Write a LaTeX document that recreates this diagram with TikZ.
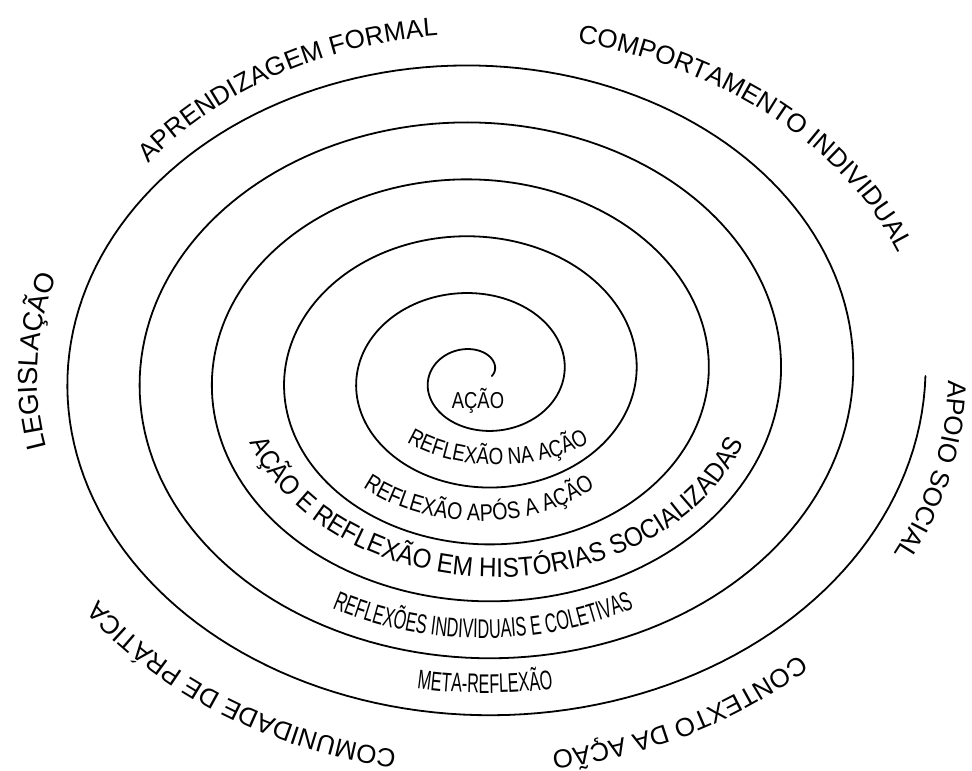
\documentclass[tikz,border=0pt]{standalone}
\usepackage{fontspec}
\setmainfont{Liberation Sans}
\newfontfamily\fnarrowA[FakeStretch=0.8]{Liberation Sans}
\newfontfamily\fnarrowD[FakeStretch=0.82]{Liberation Sans}
\newfontfamily\fnarrowB[FakeStretch=0.6]{Liberation Sans}
\newfontfamily\fnarrowC[FakeStretch=0.9]{Liberation Sans}
\usetikzlibrary{decorations.text}
\newcommand\lblOuter{\fontsize{26}{30}\selectfont}
\newcommand\lblLeg{\fontsize{27.5}{30}\selectfont}
\newcommand\lblSmall{\fnarrowA\fontsize{23}{26}\selectfont}
\newcommand\lblNa{\fnarrowA\fontsize{23.5}{26}\selectfont}
\newcommand\lblApos{\fnarrowD\fontsize{24}{26}\selectfont}
\newcommand\lblMid{\fnarrowC\fontsize{27}{30}\selectfont}
\newcommand\lblTall{\fnarrowB\fontsize{27}{30}\selectfont}
\tikzset{
  spiralline/.style={line width=1.8pt, line join=round, line cap=round},
}
\begin{document}
\begin{tikzpicture}[x=1pt,y=1pt]
\useasboundingbox (0,0) rectangle (972,-771);
\fill[white] (0,0) rectangle (972,-771);
\coordinate (c) at (478.4,-376.1);

% spiral
\draw[spiralline] plot[domain=0:2160, samples=1081, variable=\t]
  ({478.4+(13.3+0.2008*\t)*cos(\t)}, {-376.1+(11.35+0.1583*\t)*sin(\t)});

% centre label
\node[anchor=base, inner sep=0pt] (acao) at (478,-408) {\lblSmall AÇÃO};

% inner curved labels (counter-clockwise, centred)
\path[decorate, decoration={text along path, text align=center,
  text={|\lblNa|REFLEXÃO NA AÇÃO}}]
  (498,-376) ++(170:137 and 89) arc[start angle=170, end angle=370, x radius=137, y radius=89];
\path[decorate, decoration={text along path, text align=center,
  text={|\lblApos|REFLEXÃO APÓS A AÇÃO}}]
  (479,-376) ++(170:182 and 145) arc[start angle=170, end angle=370, x radius=182, y radius=145];
\path[decorate, decoration={text along path, text align=center,
  text={|\lblMid|AÇÃO E REFLEXÃO EM HISTÓRIAS SOCIALIZADAS}}]
  (497,-376) ++(160:262 and 201) arc[start angle=160, end angle=380, x radius=262, y radius=201];
\path[decorate, decoration={text along path, text align=center,
  text={|\lblTall|REFLEXÕES INDIVIDUAIS E COLETIVAS}}]
  (483,-376) ++(180:325 and 262) arc[start angle=180, end angle=360, x radius=325, y radius=262];
\path[decorate, decoration={text along path, text align=center,
  text={|\lblTall|META-REFLEXÃO}}]
  (485,-376) ++(200:400 and 317) arc[start angle=200, end angle=340, x radius=400, y radius=317];

% outer labels (clockwise, text starts at path start)
\path[decorate, decoration={text along path,
  text={|\lblLeg|LEGISLAÇÃO}}]
  (c) ++(192:441 and 342) arc[start angle=192, end angle=120, x radius=441, y radius=342];
\path[decorate, decoration={text along path,
  text={|\lblOuter|APRENDIZAGEM FORMAL}}]
  (c) ++(141.5:422 and 342) arc[start angle=141.5, end angle=50, x radius=422, y radius=342];
\path[decorate, decoration={text along path,
  text={|\lblOuter|COMPORTAMENTO INDIVIDUAL}}]
  (c) ++(77.3:450 and 342) arc[start angle=77.3, end angle=-10, x radius=450, y radius=342];
\path[decorate, decoration={text along path,
  text={|\lblOuter|APOIO SOCIAL}}]
  (c) ++(-0.6:470 and 380) arc[start angle=-0.6, end angle=-70, x radius=470, y radius=380];
\path[decorate, decoration={text along path,
  text={|\lblOuter|CONTEXTO DA AÇÃO}}]
  (c) ++(-47:470 and 380) arc[start angle=-47, end angle=-120, x radius=470, y radius=380];
\path[decorate, decoration={text along path,
  text={|\lblOuter|COMUNIDADE DE PRÁTICA}}]
  (c) ++(-100:470 and 380) arc[start angle=-100, end angle=-180, x radius=470, y radius=380];
\end{tikzpicture}
\end{document}
